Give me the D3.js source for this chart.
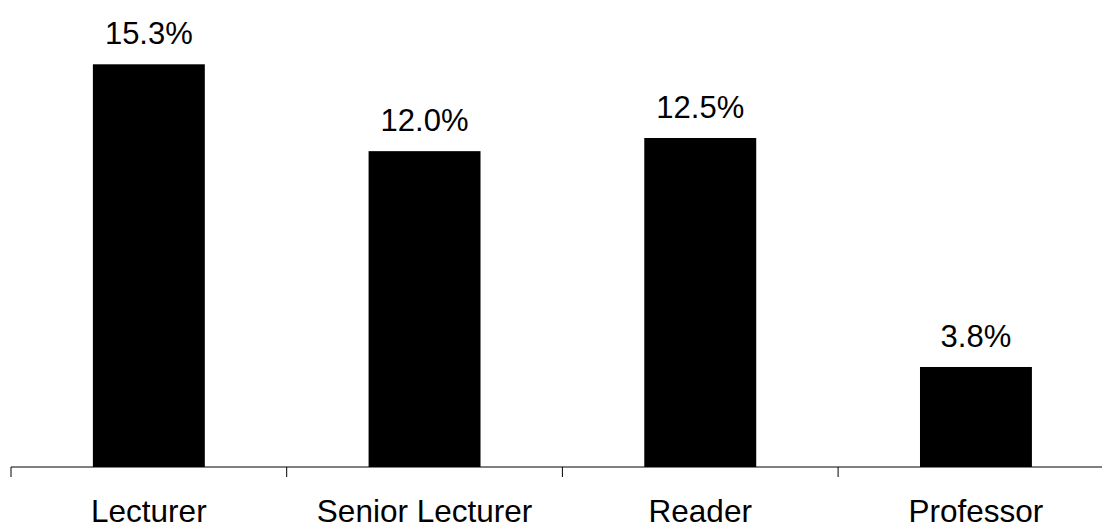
<!DOCTYPE html>
<html>
<head>
<meta charset="utf-8">
<script src="https://cdn.jsdelivr.net/npm/d3@7"></script>
<style>
  html, body { margin: 0; padding: 0; background: #fff; }
  svg { display: block; }
  text { font-family: "Liberation Sans", Arial, Helvetica, sans-serif; fill: #000; }
</style>
</head>
<body>
<div id="chart"></div>
<script>
const categories = ["Lecturer", "Senior Lecturer", "Reader", "Professor"];
const values = [15.3, 12.0, 12.5, 3.8];
const valueLabels = ["15.3%", "12.0%", "12.5%", "3.8%"];

const width = 1102, height = 526;
const axisY = 467;
const left = 11, step = 275.7;

const svg = d3.select("#chart").append("svg")
  .attr("width", width).attr("height", height);

const x = d3.scaleBand()
  .domain(categories)
  .range([left, left + step * categories.length])
  .paddingInner(0).paddingOuter(0);

const y = d3.scaleLinear()
  .domain([0, 15.3])
  .range([axisY, 64.3]);

const barFrac = 0.406;
const bw = x.bandwidth() * barFrac;

svg.selectAll("rect.bar")
  .data(values)
  .join("rect")
  .attr("class", "bar")
  .attr("x", (d, i) => x(categories[i]) + x.bandwidth() / 2 - bw / 2)
  .attr("width", bw)
  .attr("y", d => y(d))
  .attr("height", d => y(0) - y(d))
  .attr("fill", "#000");

svg.selectAll("text.val")
  .data(values)
  .join("text")
  .attr("class", "val")
  .attr("x", (d, i) => x(categories[i]) + x.bandwidth() / 2)
  .attr("y", d => y(d) - 20)
  .attr("text-anchor", "middle")
  .attr("font-size", 31)
  .text((d, i) => valueLabels[i]);

// axis line
const axisG = svg.append("g");
axisG.append("line")
  .attr("x1", left).attr("x2", width)
  .attr("y1", axisY).attr("y2", axisY)
  .attr("stroke", "#000").attr("stroke-width", 1);

// ticks at band boundaries
const tickPositions = categories.map(c => x(c));
axisG.selectAll("line.tick")
  .data(tickPositions)
  .join("line")
  .attr("class", "tick")
  .attr("x1", d => d).attr("x2", d => d)
  .attr("y1", axisY).attr("y2", axisY + 10)
  .attr("stroke", "#000").attr("stroke-width", 1);

axisG.selectAll("text.cat")
  .data(categories)
  .join("text")
  .attr("class", "cat")
  .attr("x", d => x(d) + x.bandwidth() / 2)
  .attr("y", 522)
  .attr("text-anchor", "middle")
  .attr("font-size", 31.5)
  .text(d => d);
</script>
</body>
</html>
